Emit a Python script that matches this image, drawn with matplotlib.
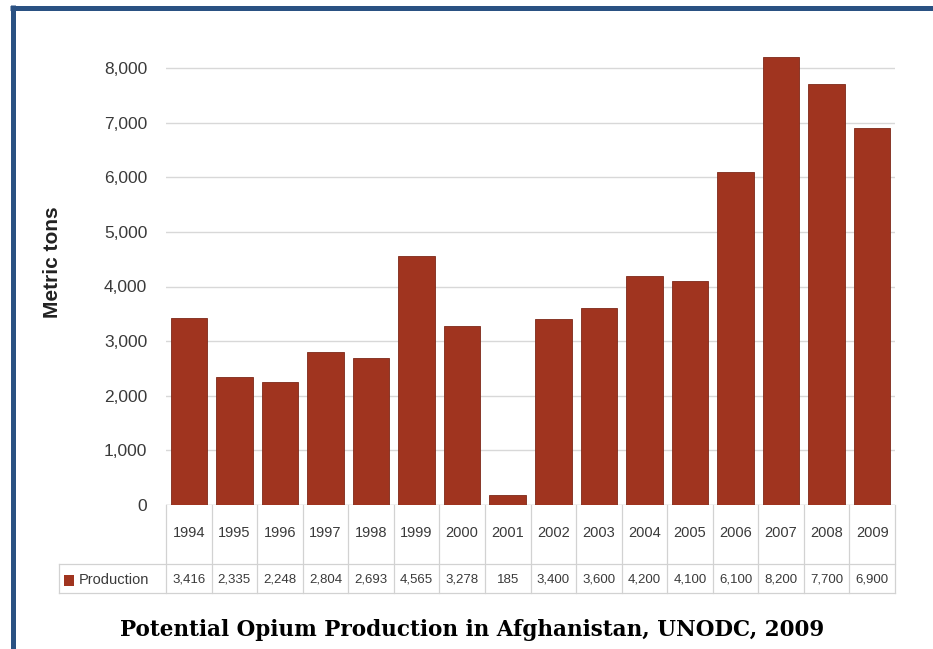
import matplotlib

matplotlib.use("Agg")
import matplotlib.pyplot as plt
import matplotlib.transforms as mtransforms
import numpy as np
from matplotlib.lines import Line2D
from matplotlib.patches import Rectangle

years = ["1994", "1995", "1996", "1997", "1998", "1999", "2000", "2001",
         "2002", "2003", "2004", "2005", "2006", "2007", "2008", "2009"]
production = [3416, 2335, 2248, 2804, 2693, 4565, 3278, 185,
              3400, 3600, 4200, 4100, 6100, 8200, 7700, 6900]
value_labels = ["3,416", "2,335", "2,248", "2,804", "2,693", "4,565", "3,278", "185",
                "3,400", "3,600", "4,200", "4,100", "6,100", "8,200", "7,700", "6,900"]
yticks = [0, 1000, 2000, 3000, 4000, 5000, 6000, 7000, 8000]

W, H = 933, 649
bar_color = "#a0341f"
grid_color = "#d8d8d8"
text_color = "#3a3a3a"
border_color = "#2a5182"


def fx(px):
    return px / W


def fy(py):
    return 1 - py / H


plt.rcParams["font.family"] = ["Liberation Sans", "DejaVu Sans"]

fig = plt.figure(figsize=(W / 100, H / 100), dpi=100)
fig.patch.set_facecolor("white")

# plot area: 0 at y=505px, 8000 at y=68px
px_per_unit = (505 - 68) / 8000
ymax = 8400
top_px = 505 - ymax * px_per_unit
ax = fig.add_axes([fx(166), fy(505), fx(895) - fx(166), (505 - top_px) / H])

x = np.arange(len(years))
ax.bar(x, production, width=0.8, color=bar_color, edgecolor="#7d2818",
       linewidth=0.6, zorder=3)
ax.set_xlim(-0.5, len(years) - 0.5)
ax.set_ylim(0, ymax)
ax.set_yticks(yticks)
ax.set_yticklabels([f"{v:,}" for v in yticks])
ax.tick_params(axis="y", length=0, pad=13.5, labelsize=12.5, labelcolor=text_color)
ax.set_xticks([])
for s in ax.spines.values():
    s.set_visible(False)
ax.grid(axis="y", color=grid_color, linewidth=1.0, zorder=0)
ax.axhline(0, color=grid_color, linewidth=1.0, zorder=1)

# data table under the bars
trans = mtransforms.blended_transform_factory(ax.transData, fig.transFigure)
line_kw = dict(color="#d2d2d2", linewidth=0.9)
for i in range(len(years) + 1):
    fig.add_artist(Line2D([i - 0.5, i - 0.5], [fy(505), fy(593)], transform=trans, **line_kw))
for py in (564, 593):
    fig.add_artist(Line2D([fx(59), fx(895)], [fy(py), fy(py)], transform=fig.transFigure, **line_kw))
fig.add_artist(Line2D([fx(59), fx(59)], [fy(564), fy(593)], transform=fig.transFigure, **line_kw))

for i, (yr, val) in enumerate(zip(years, value_labels)):
    fig.text(i, fy(533), yr, transform=trans, ha="center", va="center",
             fontsize=10.5, color=text_color)
    fig.text(i, fy(580), val, transform=trans, ha="center", va="center",
             fontsize=9.5, color=text_color)

fig.add_artist(Rectangle((fx(64), fy(586)), fx(10), 11 / H, transform=fig.transFigure,
                         facecolor=bar_color, edgecolor="none"))
fig.text(fx(79), fy(580), "Production", ha="left", va="center", fontsize=10.5, color=text_color)

fig.text(fx(53), fy(262), "Metric tons", rotation=90, ha="center", va="center",
         fontsize=15, fontweight="bold", color="#222222")

fig.text(fx(472), fy(630), "Potential Opium Production in Afghanistan, UNODC, 2009",
         ha="center", va="center", fontsize=15.5, fontweight="bold",
         family=["DejaVu Serif"], color="black")

# blue frame (top and left edges)
fig.add_artist(Line2D([fx(10), 1], [fy(7.5), fy(7.5)], transform=fig.transFigure,
                      color=border_color, linewidth=3.6, solid_capstyle="butt"))
fig.add_artist(Line2D([fx(12.5), fx(12.5)], [fy(5), 0], transform=fig.transFigure,
                      color=border_color, linewidth=3.6, solid_capstyle="butt"))

fig.savefig("out.png", dpi=100)
